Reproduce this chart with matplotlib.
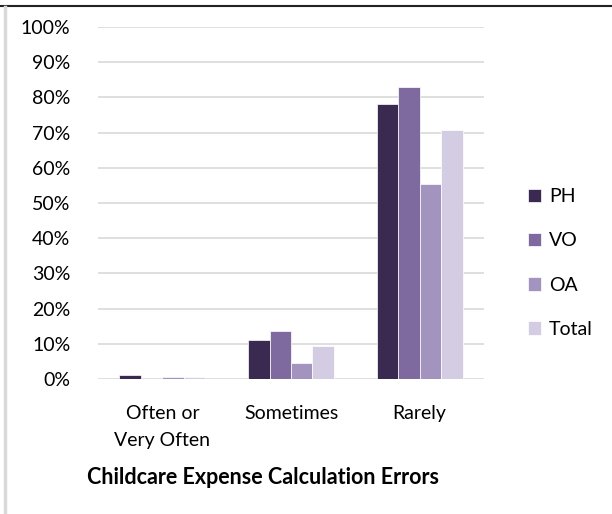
import matplotlib
matplotlib.use("Agg")
import matplotlib.pyplot as plt
from matplotlib.lines import Line2D
import numpy as np

plt.rcParams['font.family'] = ['Lato', 'DejaVu Sans']

categories = ["Often or\nVery Often", "Sometimes", "Rarely"]
series = ["PH", "VO", "OA", "Total"]
PH = [1.1, 11.1, 78.0]
VO = [0.0, 13.7, 82.9]
OA = [0.6, 4.6, 55.4]
Total = [0.6, 9.4, 70.7]
values = [PH, VO, OA, Total]
colors = ["#3a2950", "#7e6a9e", "#a294bf", "#d3cce2"]
yticks = [0, 10, 20, 30, 40, 50, 60, 70, 80, 90, 100]
title = "Childcare Expense Calculation Errors"

W, H = 612, 514
fig = plt.figure(figsize=(W/100, H/100), dpi=100)
ax = fig.add_axes([98/W, 1-379/H, (484-98)/W, (379-27)/H])

x = np.arange(len(categories))
bw = 0.167
for i, (s, v, c) in enumerate(zip(series, values, colors)):
    ax.bar(x + (i-1.5)*bw, v, bw, color=c, label=s, edgecolor="white", linewidth=0.5, zorder=3)

ax.set_xlim(-0.5, 2.5)
ax.set_ylim(0, 100)
ax.set_yticks(yticks)
ax.set_yticklabels([f"{t}%" for t in yticks])
ax.yaxis.grid(True, color="#d9d9d9", linewidth=1.2, zorder=0)
ax.set_xticks(x)
ax.set_xticklabels(categories, linespacing=1.7)
for sp in ax.spines.values():
    sp.set_visible(False)
ax.tick_params(axis="both", length=0, labelsize=14, colors="#000000")
ax.tick_params(axis="y", pad=20)
ax.tick_params(axis="x", pad=19)

fig.text(263/W, 1-478/H, title, ha="center", va="center", fontsize=15.5, fontweight="bold")

ax.legend(loc="center left", bbox_to_anchor=(510/W, 1-263/H), bbox_transform=fig.transFigure,
          frameon=False, fontsize=14, handlelength=0.7, handleheight=0.7,
          handletextpad=0.4, labelspacing=1.4)

fig.add_artist(Line2D([0, 1], [1-6/H, 1-6/H], color="#222222", linewidth=1.5, transform=fig.transFigure))
fig.add_artist(Line2D([4.5/W, 4.5/W], [0, 1-7/H], color="#d9d9d9", linewidth=2.5, transform=fig.transFigure))

fig.savefig("out.png", dpi=100)
